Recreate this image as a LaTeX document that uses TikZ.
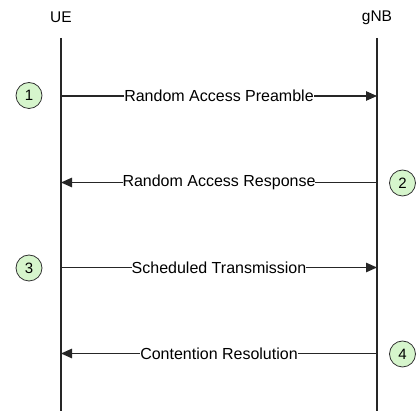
\documentclass[tikz,border=0pt]{standalone}
\usepackage{fontspec}
\setmainfont{Liberation Sans}
\usetikzlibrary{arrows.meta}
\definecolor{stepfill}{HTML}{D6F5CC}
\tikzset{
  lifeline/.style={line width=1.4pt, black!85},
  msg/.style={line width=1.1pt, black!85, -{Triangle[length=11pt,width=9.5pt]}},
  msglabel/.style={fill=white, inner sep=0pt, text=black, font=\fontsize{16}{18}\selectfont},
  title/.style={text=black, font=\fontsize{15.5}{17}\selectfont},
  num/.style={circle, draw=black!80, line width=0.8pt, fill=stepfill, minimum size=26pt, inner sep=0pt, text=black, font=\fontsize{15}{16}\selectfont}
}
\begin{document}
\begin{tikzpicture}[x=1pt,y=-1pt]
\useasboundingbox (0,0) rectangle (416,411);
\node[title] (ue) at (61,17.5) {UE};
\node[title] (gnb) at (377,17.5) {gNB};
\coordinate (uetop) at (61,38);
\coordinate (uebot) at (61,411);
\coordinate (gtop) at (377,38);
\coordinate (gbot) at (377,411);
\draw[lifeline] (uetop) -- (uebot);
\draw[lifeline] (gtop) -- (gbot);
% messages
\coordinate (u1) at (61,96);   \coordinate (g1) at (377,96);
\coordinate (u2) at (61,182.5);\coordinate (g2) at (377,182.5);
\coordinate (u3) at (61,267.5);\coordinate (g3) at (377,267.5);
\coordinate (u4) at (61,353.5);\coordinate (g4) at (377,353.5);
\draw[msg] (u1) -- node[msglabel] (l1) {Random Access Preamble} (g1);
\draw[msg] (g2) -- node[msglabel] (l2) {Random Access Response} (u2);
\draw[msg] (u3) -- node[msglabel] (l3) {Scheduled Transmission} (g3);
\draw[msg] (g4) -- node[msglabel] (l4) {Contention Resolution} (u4);
% step numbers
\node[num] (n1) at (29,95.5) {1};
\node[num] (n2) at (402.5,183) {2};
\node[num] (n3) at (29,268) {3};
\node[num] (n4) at (402.5,354) {4};
\end{tikzpicture}
\end{document}
